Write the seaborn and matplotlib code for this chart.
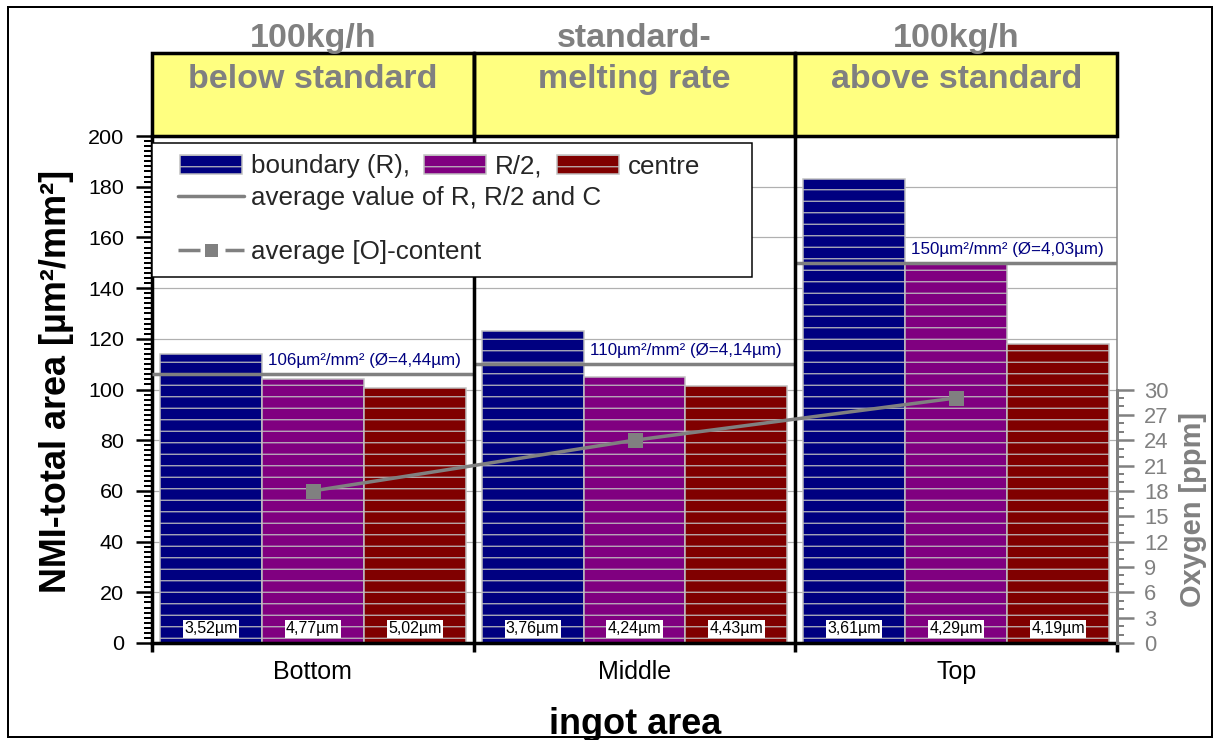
import numpy as np
import pandas as pd
import matplotlib
matplotlib.use("Agg")
import matplotlib.pyplot as plt
import matplotlib.transforms as mtransforms
from matplotlib.patches import Rectangle, Patch
from matplotlib.lines import Line2D
import seaborn as sns

# ---------------- data ----------------
areas = ["Bottom", "Middle", "Top"]
positions = ["boundary (R)", "R/2", "centre"]
boundary_R = [114, 123, 183]
half_R = [104, 105, 149.5]
centre = [100.5, 101.5, 118]
avg_area = [106, 110, 150]
avg_diam = ["4,44", "4,14", "4,03"]
oxygen_ppm = [18, 24, 29]
diam_R = ["3,52µm", "3,76µm", "3,61µm"]
diam_half = ["4,77µm", "4,24µm", "4,29µm"]
diam_C = ["5,02µm", "4,43µm", "4,19µm"]
header_line1 = ["100kg/h", "standard-", "100kg/h"]
header_line2 = ["below standard", "melting rate", "above standard"]
legend_labels = ["boundary (R),", "R/2,", "centre"]
left_ticks = list(range(0, 201, 20))
right_ticks = list(range(0, 31, 3))

# ---------------- style ----------------
W, H, DPI = 1217, 740, 138


def pt(px):
    return px * 72.0 / DPI


NAVY, PURPLE, MAROON = "#000080", "#800080", "#800000"
GRAY = "#808080"
EDGE = "#C0C0C0"
YELLOW = "#FFFF80"

sns.set_style("white")
plt.rcParams["font.family"] = ["Liberation Sans", "DejaVu Sans"]
plt.rcParams["hatch.linewidth"] = pt(1.2)

fig = plt.figure(figsize=(W / DPI, H / DPI), dpi=DPI, facecolor="white")
L, R, B, T = 152, 1117, 643, 136
ax = fig.add_axes([L / W, 1 - B / H, (R - L) / W, (B - T) / H])


def ax_x(px):
    return (px - L) / (R - L)


def ax_y(py):
    return (B - py) / (B - T)


df = pd.DataFrame({
    "area": areas * len(positions),
    "position": np.repeat(positions, len(areas)),
    "value": boundary_R + half_R + centre,
})

sns.barplot(data=df, x="area", y="value", hue="position", order=areas,
            hue_order=positions, palette=[NAVY, PURPLE, MAROON], saturation=1,
            width=0.95, errorbar=None, edgecolor=EDGE, linewidth=pt(1.5),
            hatch="--", legend=False, ax=ax, zorder=2)

n = len(areas)
bounds = np.arange(n + 1) - 0.5
ax.set_xlim(bounds[0], bounds[-1])
ax.set_ylim(0, 200)
ax.set_xlabel("")
ax.set_ylabel("")
ax.set_yticks(left_ticks)
ax.set_yticks(np.arange(0, 201, 2), minor=True)
ax.set_xticks(range(n), areas)
ax.set_xticks(bounds, minor=True)
ax.tick_params(axis="y", which="major", left=True, length=pt(16), width=pt(2.5),
               pad=pt(12), labelsize=pt(21.5), color="black", labelcolor="black",
               direction="out")
ax.tick_params(axis="y", which="minor", left=True, length=pt(8), width=pt(2),
               color="black", direction="out")
ax.tick_params(axis="x", which="major", length=0, pad=pt(17), labelsize=pt(25),
               labelcolor="black")
ax.tick_params(axis="x", which="minor", bottom=True, length=pt(9), width=pt(3.5),
               color="black", direction="out")
for s in ["left", "bottom"]:
    ax.spines[s].set_color("black")
    ax.spines[s].set_linewidth(pt(3.5))
ax.spines["top"].set_visible(False)
ax.spines["right"].set_color(GRAY)
ax.spines["right"].set_linewidth(pt(1.5))
ax.grid(axis="y", which="major", color="#B0B0B0", linewidth=pt(1.2))
ax.set_axisbelow(True)

# average lines per group
ax.hlines(avg_area, bounds[:-1], bounds[1:], colors=GRAY, linewidth=pt(3.5), zorder=4)

# group separators and header boxes
head_top = ax_y(53)
trans = mtransforms.blended_transform_factory(ax.transData, ax.transAxes)
for xb in bounds[1:-1]:
    ax.axvline(xb, 0, head_top, color="black", lw=pt(3.5), clip_on=False, zorder=6)
for i, (l1, l2) in enumerate(zip(header_line1, header_line2)):
    ax.add_patch(Rectangle((bounds[i], 1.0), 1.0, head_top - 1.0, transform=trans,
                           facecolor=YELLOW, edgecolor="black", lw=pt(3.5),
                           clip_on=False, zorder=5))
    ax.text(i, ax_y(47), l1, transform=trans, ha="center", va="baseline",
            fontsize=pt(34), fontweight="bold", color=GRAY, clip_on=False, zorder=7)
    ax.text(i, ax_y(88), l2, transform=trans, ha="center", va="baseline",
            fontsize=pt(34), fontweight="bold", color=GRAY, clip_on=False, zorder=7)

# diameter labels at the bottom of each bar
for cont, labs in zip(ax.containers, [diam_R, diam_half, diam_C]):
    for bar, lab in zip(cont, labs):
        ax.annotate(lab, xy=(bar.get_x() + bar.get_width() / 2, 0), xytext=(0, 14),
                    textcoords="offset pixels", ha="center", va="center",
                    fontsize=pt(16), color="black",
                    bbox=dict(boxstyle="square,pad=0.08", fc="white", ec="none"),
                    zorder=5)

# average annotations
for bar, v, d in zip(ax.containers[0], avg_area, avg_diam):
    xr = bar.get_x() + bar.get_width()
    ax.annotate(f"{v}µm²/mm² (Ø={d}µm)", xy=(xr, v), xytext=(6, 9),
                textcoords="offset pixels", ha="left", va="baseline",
                fontsize=pt(17), color=NAVY,
                bbox=dict(boxstyle="square,pad=0.05", fc="white", ec="none"),
                zorder=5)

# oxygen on secondary axis
ax2 = ax.twinx()
sns.lineplot(x=np.arange(n), y=oxygen_ppm, ax=ax2, color=GRAY, linewidth=pt(3.5),
             marker="s", markersize=pt(15), markeredgewidth=0, zorder=5)
ax2.set_ylim(0, 60)
ax2.set_xlim(bounds[0], bounds[-1])
ax2.set_ylabel("")
ax2.set_xlabel("")
for s in ["left", "top", "bottom"]:
    ax2.spines[s].set_visible(False)
ax2.spines["right"].set_color(GRAY)
ax2.spines["right"].set_linewidth(pt(3))
ax2.spines["right"].set_bounds(0, 30)
ax2.set_yticks(right_ticks)
ax2.set_yticks(np.arange(0, 31, 1), minor=True)
ax2.tick_params(axis="y", which="major", right=True, length=pt(17), width=pt(2.5),
                color=GRAY, labelcolor=GRAY, labelsize=pt(22), pad=pt(10),
                direction="out")
ax2.tick_params(axis="y", which="minor", right=True, length=pt(7), width=pt(2),
                color=GRAY, direction="out")

# legend
frame = Rectangle((0, ax_y(277)), ax_x(752), ax_y(143) - ax_y(277),
                  transform=ax2.transAxes, fc="white", ec="black", lw=pt(1.5),
                  zorder=8, clip_on=False)
ax2.add_patch(frame)
leg_fs = pt(26)
common = dict(frameon=False, fontsize=leg_fs, borderpad=0, borderaxespad=0,
              loc="center left")
h1 = [Patch(facecolor=c, edgecolor=EDGE, hatch="--", linewidth=pt(1.5))
      for c in (NAVY, PURPLE, MAROON)]
leg1 = ax2.legend(h1, legend_labels, ncol=3, bbox_to_anchor=(ax_x(180), ax_y(166.5)),
                  handlelength=62 / 26, handleheight=0.8, handletextpad=9 / 26,
                  columnspacing=0.55, **common)
leg1.set_zorder(9)
ax2.add_artist(leg1)
h2 = Line2D([], [], color=GRAY, lw=pt(3.5))
leg2 = ax2.legend([h2], ["average value of R, R/2 and C"],
                  bbox_to_anchor=(ax_x(178), ax_y(198)), handlelength=66 / 26,
                  handletextpad=7 / 26, **common)
leg2.set_zorder(9)
ax2.add_artist(leg2)
h3 = Line2D([], [], color=GRAY, lw=pt(3.5), linestyle=(0, (22 / 3.5, 25 / 3.5)),
            marker="s", markersize=pt(13), markeredgewidth=0)
leg3 = ax2.legend([h3], ["average [O]-content"], numpoints=1,
                  bbox_to_anchor=(ax_x(178), ax_y(252)), handlelength=66 / 26,
                  handletextpad=7 / 26, **common)
leg3.set_zorder(9)

# axis titles
fig.text(57 / W, 1 - 381.5 / H, "NMI-total area [µm²/mm²]", rotation=90,
         ha="center", va="center", fontsize=pt(36), fontweight="bold", color="black")
fig.text(1193 / W, 1 - 509.5 / H, "Oxygen [ppm]", rotation=90, ha="center",
         va="center", fontsize=pt(29), fontweight="bold", color=GRAY)
fig.text(635 / W, 1 - 734 / H, "ingot area", ha="center", va="baseline",
         fontsize=pt(36), fontweight="bold", color="black")

# outer frame
fig.add_artist(Rectangle((8 / W, 3 / H), 1204 / W, 730 / H, transform=fig.transFigure,
                         fill=False, ec="black", lw=pt(2)))

fig.savefig("out.png", dpi=DPI, facecolor="white")
